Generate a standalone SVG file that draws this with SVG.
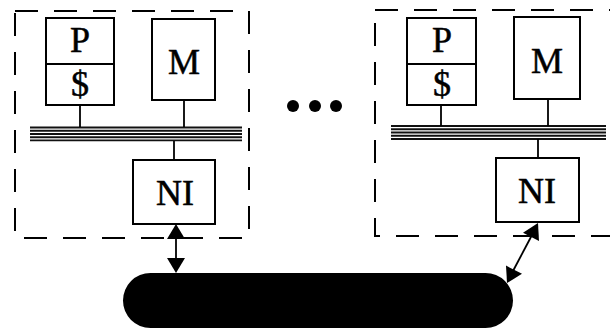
<svg xmlns="http://www.w3.org/2000/svg" width="610" height="330" viewBox="0 0 610 330">
<style>
.box{fill:none;stroke:#000;stroke-width:2}
.dash{fill:none;stroke:#000;stroke-width:2;stroke-dasharray:23 16}
.ln{stroke:#000;stroke-width:1.8;fill:none}
.bus{stroke:#111;stroke-width:1.9}
.head{fill:#000;stroke:none}
.lbl{font-family:"Liberation Serif","Times New Roman",serif;font-size:36px;fill:#000;stroke:#000;stroke-width:0.5;text-anchor:middle}
</style>
<rect width="610" height="330" fill="#fff"/>

<g id="node-left">
<rect class="dash" x="15" y="11" width="234" height="227"/>
<g id="left-p">
<rect class="box" x="46" y="18" width="68" height="87"/>
<line class="box" x1="46" y1="64" x2="114" y2="64"/>
<text class="lbl" x="80" y="52">P</text>
<text class="lbl" x="80" y="96">$</text>
</g>
<g id="left-m">
<rect class="box" x="152" y="19" width="63" height="81"/>
<text class="lbl" x="184" y="74">M</text>
</g>
<g id="left-bus">
<line class="bus" x1="30" y1="127.5" x2="242" y2="127.5"/>
<line class="bus" x1="30" y1="130.7" x2="242" y2="130.7"/>
<line class="bus" x1="30" y1="134" x2="242" y2="134"/>
<line class="bus" x1="30" y1="137.2" x2="242" y2="137.2"/>
<line class="bus" x1="30" y1="140.4" x2="242" y2="140.4"/>
</g>
<g id="left-ni">
<rect class="box" x="133" y="160" width="82" height="64"/>
<text class="lbl" x="175" y="205">NI</text>
</g>
</g>

<g id="ellipsis">
<circle cx="293" cy="106" r="6"/>
<circle cx="315" cy="106" r="6"/>
<circle cx="336" cy="106" r="6"/>
</g>

<g id="node-right">
<rect class="dash" x="375" y="10" width="260" height="226"/>
<g id="right-p">
<rect class="box" x="407" y="18" width="69" height="87"/>
<line class="box" x1="407" y1="64" x2="476" y2="64"/>
<text class="lbl" x="442" y="52">P</text>
<text class="lbl" x="442" y="96">$</text>
</g>
<g id="right-m">
<rect class="box" x="514" y="17" width="66" height="82"/>
<text class="lbl" x="547" y="73">M</text>
</g>
<g id="right-bus">
<line class="bus" x1="391" y1="126" x2="606" y2="126"/>
<line class="bus" x1="391" y1="129.2" x2="606" y2="129.2"/>
<line class="bus" x1="391" y1="132.5" x2="606" y2="132.5"/>
<line class="bus" x1="391" y1="135.7" x2="606" y2="135.7"/>
<line class="bus" x1="391" y1="139" x2="606" y2="139"/>
</g>
<g id="right-ni">
<rect class="box" x="496" y="158" width="83" height="64"/>
<text class="lbl" x="537" y="203">NI</text>
</g>
</g>

<g id="network">
<rect x="123" y="273" width="390" height="55" rx="27.5" ry="27.5" fill="#000"/>
</g>

<g id="connectors">
<line class="ln" x1="80" y1="105" x2="80" y2="127"/>
<line class="ln" x1="184" y1="100" x2="184" y2="127"/>
<line class="ln" x1="174" y1="141" x2="174" y2="160"/>
<line class="ln" x1="441" y1="105" x2="441" y2="126"/>
<line class="ln" x1="548" y1="99" x2="548" y2="126"/>
<line class="ln" x1="538" y1="139" x2="538" y2="158"/>
<line class="ln" x1="176" y1="236" x2="176" y2="260"/>
<polygon class="head" points="176,224 185,239 167,239"/>
<polygon class="head" points="176,273 185,258 167,258"/>
<line class="ln" x1="532" y1="235" x2="513" y2="271"/>
<polygon class="head" points="538,223 539,241 523,232.7"/>
<polygon class="head" points="507,283 522,273.8 506,265.6"/>
</g>
</svg>
